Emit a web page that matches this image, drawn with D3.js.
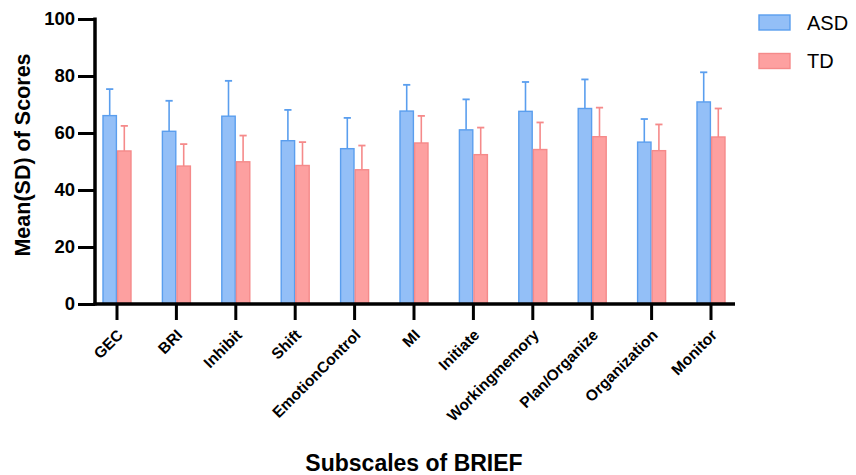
<!DOCTYPE html>
<html><head><meta charset="utf-8">
<script src="https://cdn.jsdelivr.net/npm/d3@7"></script>
<style>
html,body{margin:0;padding:0;background:#fff;}
text{font-family:"Liberation Sans",Arial,Helvetica,sans-serif;}
</style></head>
<body>
<svg id="chart" width="856" height="475"></svg>
<script>
const categories = ["GEC","BRI","Inhibit","Shift","EmotionControl","MI","Initiate","Workingmemory","Plan/Organize","Organization","Monitor"];
const asdMean = [66.1, 60.6, 65.9, 57.3, 54.5, 67.7, 61.1, 67.6, 68.6, 56.8, 70.9];
const asdSD   = [9.3, 10.7, 12.4, 10.8, 10.8, 9.2, 10.7, 10.3, 10.2, 8.1, 10.4];
const tdMean  = [53.7, 48.4, 49.9, 48.6, 47.1, 56.5, 52.4, 54.2, 58.7, 53.8, 58.6];
const tdSD    = [8.8, 7.7, 9.2, 8.2, 8.5, 9.5, 9.5, 9.5, 10.2, 9.2, 10.0];
const seriesNames = ["ASD","TD"];
const yTicks = [0,20,40,60,80,100];

const fills = {ASD:"#93bff7", TD:"#fda0a0"};
const strokes = {ASD:"#5a9eee", TD:"#f58a8a"};

const svg = d3.select("#chart");
const x = d3.scaleBand().domain(categories).range([87.3, 740.7]);
const y = d3.scaleLinear().domain([0,100]).range([304, 19]);
const barW = 14.6;

const data = categories.map((c,i)=>({cat:c, vals:[
  {s:"ASD", m:asdMean[i], sd:asdSD[i]},
  {s:"TD", m:tdMean[i], sd:tdSD[i]}
]}));

const g = svg.append("g");
const groups = g.selectAll("g.cat").data(data).join("g")
  .attr("transform", d=>`translate(${x(d.cat)+x.bandwidth()/2},0)`);

groups.each(function(d){
  const sel = d3.select(this);
  d.vals.forEach((v,j)=>{
    const cx = j===0 ? -barW/2 : barW/2;
    sel.append("line").attr("x1",cx).attr("x2",cx)
      .attr("y1",y(v.m)).attr("y2",y(v.m+v.sd))
      .attr("stroke",strokes[v.s]).attr("stroke-width",1.6);
    sel.append("line").attr("x1",cx-3.6).attr("x2",cx+3.6)
      .attr("y1",y(v.m+v.sd)).attr("y2",y(v.m+v.sd))
      .attr("stroke",strokes[v.s]).attr("stroke-width",1.8);
  });
  d.vals.forEach((v,j)=>{
    const x0 = j===0 ? -barW : 0;
    sel.append("rect").attr("x",x0+0.6).attr("width",barW-1.2)
      .attr("y",y(v.m)).attr("height",y(0)-y(v.m))
      .attr("fill",fills[v.s]).attr("stroke",strokes[v.s]).attr("stroke-width",1.4);
  });
});

// Y axis
const yAxis = svg.append("g").attr("transform","translate(95,0)")
  .call(d3.axisLeft(y).tickValues(yTicks).tickSize(17).tickSizeOuter(0).tickPadding(3));
yAxis.select(".domain").remove();
yAxis.selectAll(".tick line").attr("stroke","#000").attr("stroke-width",3);
yAxis.selectAll(".tick text").attr("font-size",18.5).attr("font-weight","bold")
  .attr("font-family","Liberation Sans, Arial, sans-serif").attr("fill","#000");
svg.append("line").attr("x1",95).attr("x2",95).attr("y1",y(100)-1.5).attr("y2",y(0)+1.5)
  .attr("stroke","#000").attr("stroke-width",3.5);

// X axis
const xAxis = svg.append("g").attr("transform",`translate(0,${y(0)})`)
  .call(d3.axisBottom(x).tickSize(16).tickSizeOuter(0).tickFormat(""));
xAxis.select(".domain").remove();
xAxis.selectAll(".tick line").attr("stroke","#000").attr("stroke-width",3);
svg.append("line").attr("x1",93.5).attr("x2",735).attr("y1",y(0)).attr("y2",y(0))
  .attr("stroke","#000").attr("stroke-width",3.5);

svg.append("g").selectAll("text").data(categories).join("text")
  .attr("transform", d=>`translate(${x(d)+x.bandwidth()/2+7},${y(0)+32}) rotate(-45)`)
  .attr("text-anchor","end").attr("font-size",15.5).attr("font-weight","bold")
  .attr("fill","#000").text(d=>d);

// axis titles
svg.append("text").attr("x",414).attr("y",471).attr("text-anchor","middle")
  .attr("font-size",23).attr("font-weight","bold").text("Subscales of BRIEF");
svg.append("text").attr("transform","translate(30,155) rotate(-90)")
  .attr("text-anchor","middle").attr("font-size",21.5).attr("font-weight","bold")
  .text("Mean(SD) of Scores");

// legend
const leg = svg.append("g").selectAll("g").data(seriesNames).join("g")
  .attr("transform",(d,i)=>`translate(759,${15+i*38.5})`);
leg.append("rect").attr("width",31).attr("height",15)
  .attr("fill",d=>fills[d]).attr("stroke",d=>strokes[d]).attr("stroke-width",1.4);
leg.append("text").attr("x",48).attr("y",14.5).attr("font-size",20).attr("fill","#000").text(d=>d);
</script>
</body></html>
